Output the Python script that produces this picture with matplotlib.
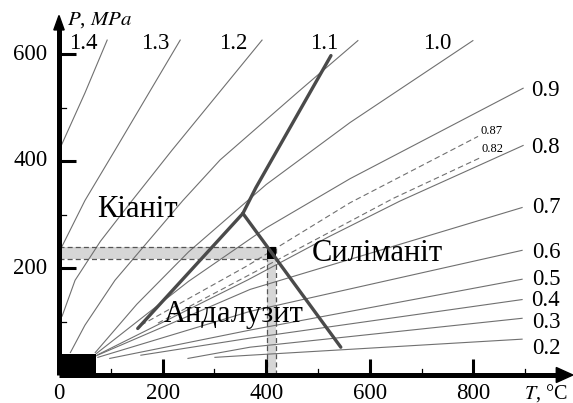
import matplotlib
matplotlib.use("Agg")
import matplotlib.pyplot as plt
from matplotlib.patches import Rectangle, Polygon

# ---------------- data ----------------
t_14 = [3, 50, 93];                      p_14 = [426, 527, 626]
t_13 = [3, 50, 108, 234];                p_13 = [235, 326, 420, 626]
t_12 = [6, 31, 80, 141, 218, 392];       p_12 = [110, 177, 250, 326, 420, 626]
t_11 = [22, 50, 108, 239, 311, 465, 577]; p_11 = [42, 93, 177, 326, 402, 532, 625]
t_10 = [70, 150, 250, 400, 562, 799];    p_10 = [42, 132, 230, 356, 472, 625]
t_09 = [72, 250, 400, 562, 896];         p_09 = [40, 175, 275, 367, 536]
t_087 = [158, 365, 562, 809];            p_087 = [93, 205, 322, 446]
t_082 = [191, 365, 645, 813];            p_082 = [97, 186, 330, 406]
t_08 = [75, 365, 520, 658, 896];         p_08 = [38, 178, 258, 325, 429]
t_07 = [72, 369, 894];                   p_07 = [36, 160, 313]
t_06 = [75, 369, 894];                   p_06 = [33, 119, 233]
t_05 = [98, 369, 894];                   p_05 = [31, 84, 179]
t_04 = [158, 369, 894];                  p_04 = [37, 69, 141]
t_03 = [249, 369, 894];                  p_03 = [31, 52, 106]
t_02 = [301, 369, 894];                  p_02 = [33, 37, 67]

solid_labels = ["1.4", "1.3", "1.2", "1.1", "1.0", "0.9", "0.8", "0.7", "0.6", "0.5", "0.4", "0.3", "0.2"]
dashed_labels = ["0.87", "0.82"]

# phase boundaries (T, P)
t_ky_and = [152, 355];   p_ky_and = [87, 302]
t_and_sil = [355, 544];  p_and_sil = [302, 52]
t_ky_sil = [355, 380, 525]; p_ky_sil = [302, 350, 597]

# shaded bands
band_p = [216, 240]
band_t = [401, 418]
corner_t = [0, 71]
corner_p = [0, 40]

x_ticks = [0, 200, 400, 600, 800]
y_ticks = [200, 400, 600]

# ---------------- figure ----------------
plt.rcParams['font.family'] = ['Liberation Serif', 'DejaVu Serif']
plt.rcParams['mathtext.fontset'] = 'stix'
fig = plt.figure(figsize=(5.73, 4.03), dpi=100)
W, H = 573, 403
x0, y0 = 59, 375
sx, sy = 0.518, 0.535
xmax, ymax = 990, 672
ax = fig.add_axes([x0 / W, (H - y0) / H, xmax * sx / W, ymax * sy / H])
ax.set_xlim(0, xmax)
ax.set_ylim(0, ymax)
ax.axis('off')

iso_col = '#707070'
solid = [(t_14, p_14), (t_13, p_13), (t_12, p_12), (t_11, p_11), (t_10, p_10),
         (t_09, p_09), (t_08, p_08), (t_07, p_07), (t_06, p_06), (t_05, p_05),
         (t_04, p_04), (t_03, p_03), (t_02, p_02)]
for t, p in solid:
    ax.plot(t, p, color=iso_col, lw=0.8, zorder=2)
for t, p in [(t_087, p_087), (t_082, p_082)]:
    ax.plot(t, p, color=iso_col, lw=0.8, ls=(0, (5, 3)), zorder=2)

# bands
ax.add_patch(Rectangle((0, band_p[0]), band_t[1], band_p[1] - band_p[0],
                       facecolor='#d6d6d6', edgecolor='none', zorder=1))
ax.add_patch(Rectangle((band_t[0], 0), band_t[1] - band_t[0], band_p[0],
                       facecolor='#d6d6d6', edgecolor='none', zorder=1))
dash_kw = dict(color='#555555', lw=0.9, ls=(0, (4, 2.5)), zorder=3)
ax.plot([0, band_t[1]], [band_p[1], band_p[1]], **dash_kw)
ax.plot([0, band_t[0]], [band_p[0], band_p[0]], **dash_kw)
ax.plot([band_t[0], band_t[0]], [0, band_p[0]], **dash_kw)
ax.plot([band_t[1], band_t[1]], [0, band_p[1]], **dash_kw)
ax.add_patch(Rectangle((band_t[0], band_p[0]), band_t[1] - band_t[0], band_p[1] - band_p[0],
                       facecolor='black', edgecolor='none', zorder=4))
ax.add_patch(Rectangle((corner_t[0], corner_p[0]), corner_t[1], corner_p[1],
                       facecolor='black', edgecolor='none', zorder=4, clip_on=False))

# phase boundaries
pb_col = '#4a4a4a'
for t, p in [(t_ky_and, p_ky_and), (t_and_sil, p_and_sil), (t_ky_sil, p_ky_sil)]:
    ax.plot(t, p, color=pb_col, lw=2.4, solid_capstyle='round', zorder=5)

# axes with arrows
ax.plot([0, 0], [0, 650], color='black', lw=3.6, solid_capstyle='butt', zorder=6, clip_on=False)
ax.plot([0, 968], [0, 0], color='black', lw=3.6, solid_capstyle='butt', zorder=6, clip_on=False)
ax.add_patch(Polygon([[-10, 645], [10, 645], [0, 672]], closed=True, color='black',
                     zorder=7, clip_on=False))
ax.add_patch(Polygon([[960, -14], [960, 14], [992, 0]], closed=True, color='black',
                     zorder=7, clip_on=False))

# ticks
for v in y_ticks:
    ax.plot([0, 32], [v, v], color='black', lw=2.2, zorder=6, solid_capstyle='butt')
    ax.text(-22, v, str(v), ha='right', va='center', fontsize=16.5)
for v in [100, 300, 500]:
    ax.plot([0, 14], [v, v], color='black', lw=0.9, zorder=6)
for v in x_ticks:
    if v > 0:
        ax.plot([v, v], [0, 30], color='black', lw=2.2, zorder=6, solid_capstyle='butt')
    ax.text(v, -15, str(v), ha='center', va='top', fontsize=16.5)
for v in [100, 300, 500, 700, 900]:
    ax.plot([v, v], [0, 12], color='black', lw=0.9, zorder=6)

# axis titles
ax.text(15, 663, r'$P$, $MPa$', fontsize=15, ha='left', va='center')
ax.text(898, -34, r'$T$, °C', fontsize=14.5, ha='left', va='center', clip_on=False)

# isoline labels
top_lab_T = [46, 185, 336, 512, 730]
for lab, tt in zip(solid_labels[:5], top_lab_T):
    ax.text(tt, 620, lab, ha='center', va='center', fontsize=16.5)
right_lab_P = [532, 425, 313, 229, 179, 139, 98, 50]
for lab, pp in zip(solid_labels[5:], right_lab_P):
    ax.text(940, pp, lab, ha='center', va='center', fontsize=16.5)
for lab, pp in zip(dashed_labels, [457, 422]):
    ax.text(836, pp, lab, ha='center', va='center', fontsize=9)

# phase labels
ax.text(151, 310, 'Кіаніт', ha='center', va='center', fontsize=22, zorder=8)
ax.text(614, 227, 'Силіманіт', ha='center', va='center', fontsize=22, zorder=8)
ax.text(338, 113, 'Андалузит', ha='center', va='center', fontsize=22, zorder=8)

fig.savefig('out.png', dpi=100)
